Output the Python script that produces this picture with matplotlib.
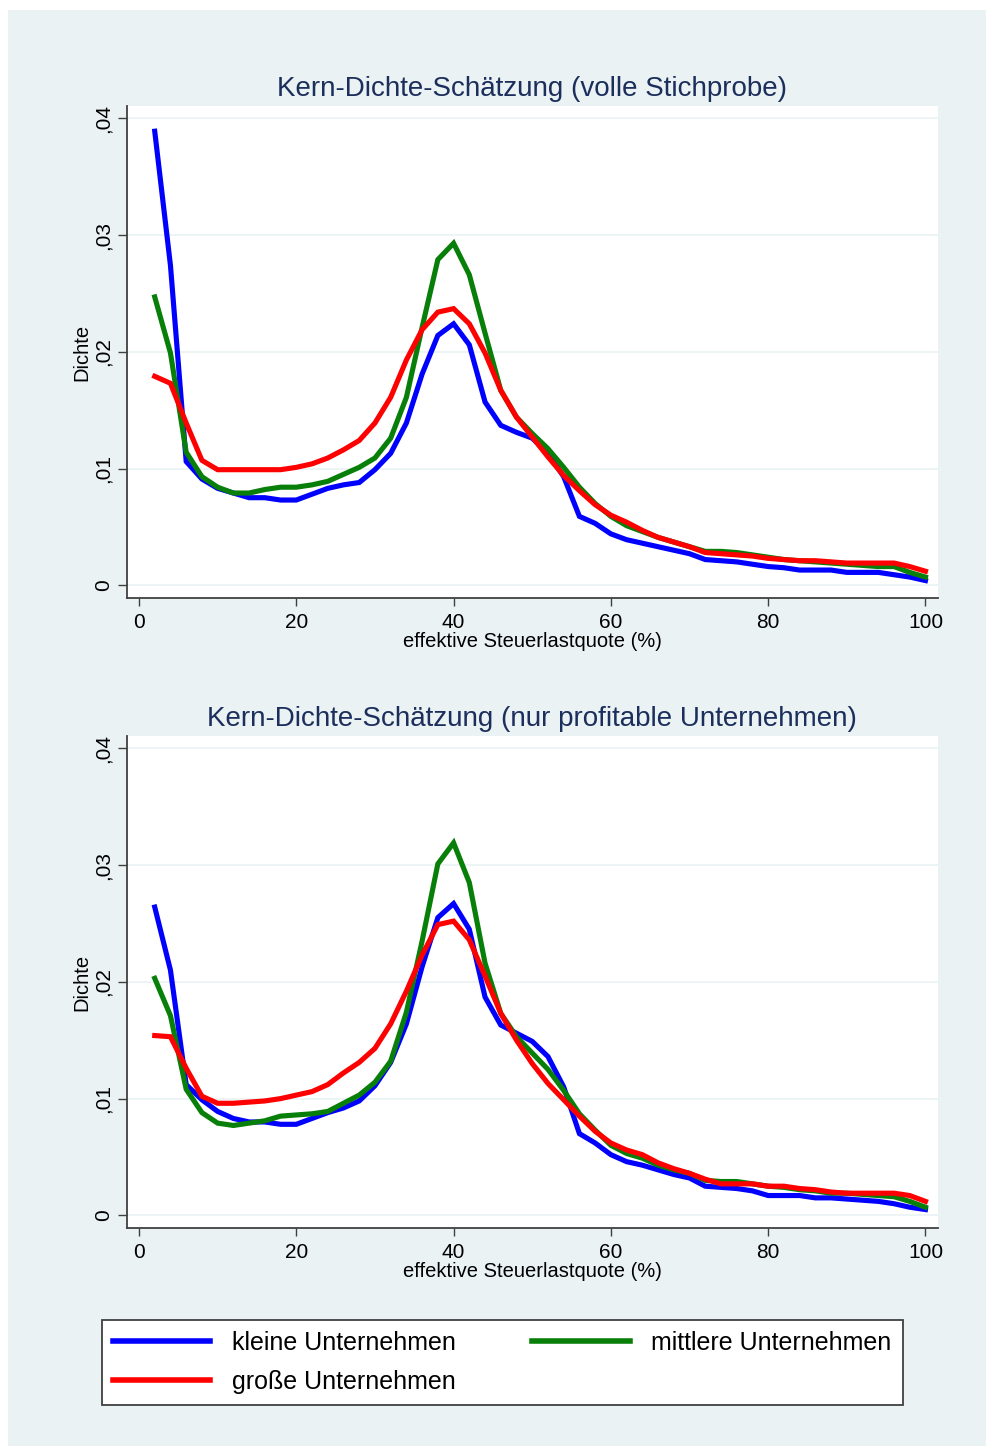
import numpy as np
import matplotlib.pyplot as plt
from matplotlib.patches import Rectangle
from matplotlib.lines import Line2D

plt.rcParams['font.family'] = ['Liberation Sans', 'DejaVu Sans']

# x grid of the kernel density estimates (steps of 2)
x = np.arange(2, 101, 2)

# full sample
klein_voll = [0.0389, 0.0274, 0.0106, 0.0091, 0.0083, 0.0079, 0.0075, 0.0075, 0.0073, 0.0073,
              0.0078, 0.0083, 0.0086, 0.0088, 0.0099, 0.0113, 0.0139, 0.0181, 0.0214, 0.0224,
              0.0206, 0.0157, 0.0137, 0.0131, 0.0126, 0.0113, 0.0093, 0.0059, 0.0053, 0.0044,
              0.0039, 0.0036, 0.0033, 0.0030, 0.0027, 0.0022, 0.0021, 0.0020, 0.0018, 0.0016,
              0.0015, 0.0013, 0.0013, 0.0013, 0.0011, 0.0011, 0.0011, 0.0009, 0.0007, 0.0004]
mittel_voll = [0.0247, 0.0199, 0.0114, 0.0093, 0.0084, 0.0079, 0.0079, 0.0082, 0.0084, 0.0084,
               0.0086, 0.0089, 0.0095, 0.0101, 0.0109, 0.0126, 0.0161, 0.0221, 0.0279, 0.0293,
               0.0266, 0.0216, 0.0167, 0.0144, 0.0130, 0.0117, 0.0101, 0.0084, 0.0070, 0.0059,
               0.0051, 0.0046, 0.0041, 0.0037, 0.0033, 0.0029, 0.0029, 0.0028, 0.0026, 0.0024,
               0.0022, 0.0021, 0.0020, 0.0019, 0.0018, 0.0017, 0.0016, 0.0016, 0.0011, 0.0007]
gross_voll = [0.0179, 0.0173, 0.0139, 0.0107, 0.0099, 0.0099, 0.0099, 0.0099, 0.0099, 0.0101,
              0.0104, 0.0109, 0.0116, 0.0124, 0.0139, 0.0161, 0.0193, 0.0219, 0.0234, 0.0237,
              0.0224, 0.0199, 0.0167, 0.0144, 0.0127, 0.0110, 0.0094, 0.0081, 0.0069, 0.0060,
              0.0054, 0.0047, 0.0041, 0.0037, 0.0033, 0.0028, 0.0027, 0.0026, 0.0025, 0.0023,
              0.0022, 0.0021, 0.0021, 0.0020, 0.0019, 0.0019, 0.0019, 0.0019, 0.0016, 0.0012]

# profitable firms only
klein_prof = [0.0264, 0.0210, 0.0112, 0.0099, 0.0089, 0.0083, 0.0080, 0.0080, 0.0078, 0.0078,
              0.0083, 0.0088, 0.0092, 0.0098, 0.0111, 0.0131, 0.0164, 0.0213, 0.0255, 0.0267,
              0.0245, 0.0187, 0.0163, 0.0156, 0.0149, 0.0136, 0.0110, 0.0070, 0.0062, 0.0052,
              0.0046, 0.0043, 0.0039, 0.0035, 0.0032, 0.0025, 0.0024, 0.0023, 0.0021, 0.0017,
              0.0017, 0.0017, 0.0015, 0.0015, 0.0014, 0.0013, 0.0012, 0.0010, 0.0007, 0.0005]
mittel_prof = [0.0203, 0.0171, 0.0108, 0.0088, 0.0079, 0.0077, 0.0079, 0.0081, 0.0085, 0.0086,
               0.0087, 0.0089, 0.0096, 0.0103, 0.0114, 0.0132, 0.0174, 0.0235, 0.0301, 0.0319,
               0.0285, 0.0216, 0.0173, 0.0153, 0.0139, 0.0125, 0.0107, 0.0087, 0.0073, 0.0060,
               0.0053, 0.0049, 0.0043, 0.0039, 0.0036, 0.0030, 0.0029, 0.0029, 0.0027, 0.0025,
               0.0024, 0.0022, 0.0021, 0.0019, 0.0019, 0.0018, 0.0017, 0.0016, 0.0012, 0.0007]
gross_prof = [0.0154, 0.0153, 0.0126, 0.0102, 0.0096, 0.0096, 0.0097, 0.0098, 0.0100, 0.0103,
              0.0106, 0.0112, 0.0122, 0.0131, 0.0143, 0.0164, 0.0192, 0.0223, 0.0249, 0.0252,
              0.0236, 0.0205, 0.0173, 0.0150, 0.0130, 0.0113, 0.0099, 0.0085, 0.0072, 0.0062,
              0.0056, 0.0052, 0.0045, 0.0040, 0.0036, 0.0031, 0.0027, 0.0027, 0.0027, 0.0025,
              0.0025, 0.0023, 0.0022, 0.0020, 0.0019, 0.0019, 0.0019, 0.0019, 0.0017, 0.0012]

titles = ['Kern-Dichte-Schätzung (volle Stichprobe)',
          'Kern-Dichte-Schätzung (nur profitable Unternehmen)']
labels = ['kleine Unternehmen', 'mittlere Unternehmen', 'große Unternehmen']
colors = ['#0000ff', '#087f08', '#ff0000']
xticks = [0, 20, 40, 60, 80, 100]
yticks = [0, 0.01, 0.02, 0.03, 0.04]
ytick_labels = ['0', ',01', ',02', ',03', ',04']

bg = '#eaf2f3'
fig = plt.figure(figsize=(9.87, 14.46), dpi=100, facecolor='white')
fig.patches.append(Rectangle((8/987, 0), 1, 1 - 10/1446, transform=fig.transFigure,
                             facecolor=bg, edgecolor='none', zorder=-5))

ax1 = fig.add_axes([0.1284, 0.5864, 0.822, 0.3402])
ax2 = fig.add_axes([0.1284, 0.1506, 0.822, 0.3404])

panels = [(ax1, [klein_voll, mittel_voll, gross_voll]),
          (ax2, [klein_prof, mittel_prof, gross_prof])]

for i, (ax, series) in enumerate(panels):
    ax.set_zorder(2)
    ax.set_facecolor('white')
    for yv in yticks:
        ax.axhline(yv, color=bg, lw=1.2, zorder=1)
    for s, c in zip(series, colors):
        ax.plot(x, s, color=c, lw=3.7, solid_joinstyle='miter', zorder=3)
    ax.set_xlim(-1.56, 101.6)
    ax.set_ylim(-0.0011, 0.04105)
    ax.set_xticks(xticks)
    ax.set_xticklabels([str(t) for t in xticks])
    ax.set_yticks(yticks)
    ax.set_yticklabels(ytick_labels, rotation=90, va='center')
    for side in ['top', 'right']:
        ax.spines[side].set_visible(False)
    for side in ['left', 'bottom']:
        ax.spines[side].set_color('#404040')
        ax.spines[side].set_linewidth(1.3)
    ax.tick_params(axis='x', length=6, width=1, color='#404040', labelsize=15, pad=4.5)
    ax.tick_params(axis='y', length=6.5, width=1, color='#404040', labelsize=15, pad=3.5)
    ax.set_xlabel('effektive Steuerlastquote (%)', fontsize=14.5, labelpad=0)
    ax.set_ylabel('Dichte', fontsize=14.5, labelpad=2)
    ax.set_title(titles[i], fontsize=20, color='#1c2e5c', pad=7)

handles = [Line2D([], [], color=c, lw=4) for c in colors]
order = [0, 2, 1]
leg = fig.legend([handles[k] for k in order], [labels[k] for k in order],
                 ncol=2, loc='lower left', mode='expand',
                 bbox_to_anchor=(101.6/987, 1 - 1405/1446, 801/987, 87/1446),
                 fontsize=18, handlelength=3.9, handletextpad=0.85,
                 borderaxespad=0, borderpad=0.45, labelspacing=0.6,
                 fancybox=False, framealpha=1, edgecolor='#404040', facecolor='white')
leg.get_frame().set_linewidth(1.3)
leg.set_zorder(3)

fig.savefig('out.png', dpi=100, facecolor=fig.get_facecolor())
